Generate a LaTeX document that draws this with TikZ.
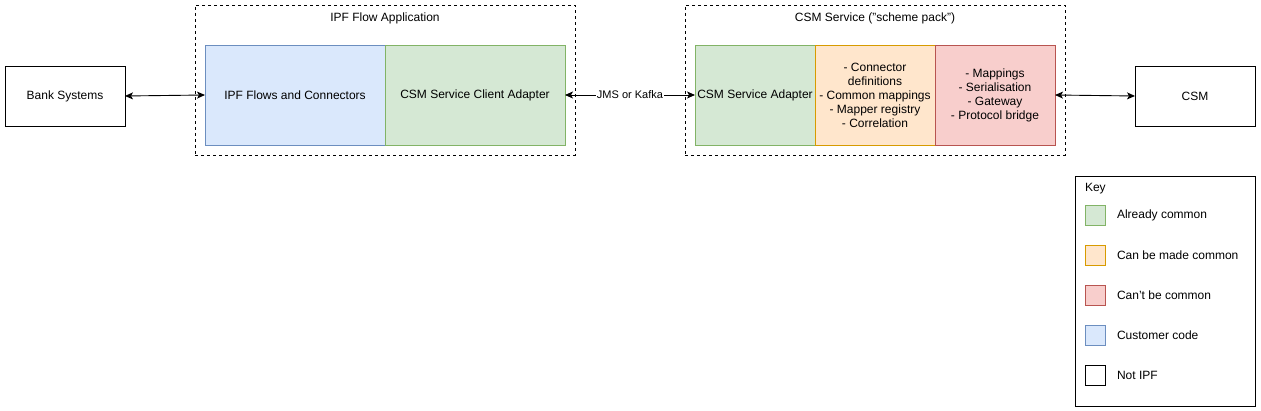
\documentclass[tikz,border=0pt]{standalone}
\usepackage{fontspec}
\setmainfont{Liberation Sans}
\usetikzlibrary{arrows.meta}
\definecolor{bluef}{HTML}{DAE8FC}\definecolor{bluel}{HTML}{6C8EBF}
\definecolor{greenf}{HTML}{D5E8D4}\definecolor{greenl}{HTML}{82B366}
\definecolor{orangef}{HTML}{FFE6CC}\definecolor{orangel}{HTML}{D79B00}
\definecolor{redf}{HTML}{F8CECC}\definecolor{redl}{HTML}{B85450}
\begin{document}
\begin{tikzpicture}[x=1pt,y=-1pt,
  every node/.style={font=\fontsize{12}{14}\selectfont, inner sep=0pt, outer sep=0pt},
  blk/.style={draw, line width=0.8pt, minimum width=#1, minimum height=60pt, anchor=north west, align=center},
  cell/.style={draw, line width=0.8pt, minimum width=#1, minimum height=100pt, anchor=north west, align=center},
  grp/.style={draw, dashed, line width=0.8pt, minimum width=380pt, minimum height=150pt, anchor=north west},
  sw/.style={draw, line width=0.8pt, minimum width=20pt, minimum height=20pt, anchor=north west},
  conn/.style={{Stealth[length=8pt,width=7pt,inset=2pt]}-{Stealth[length=8pt,width=7pt,inset=2pt]}, line width=0.9pt},
  keytxt/.style={anchor=west}
]
\useasboundingbox (0,0) rectangle (1261,411);
% groups
\node[grp] (g1) at (195,5) {};
\node[anchor=center] (g1t) at (385,18.5) {IPF Flow Application};
\node[grp] (g2) at (685,5) {};
\node[anchor=center] (g2t) at (875,18.5) {CSM Service ("scheme pack")};
% outer
\node[blk=120pt] (bank) at (5,66) {Bank Systems};
\node[blk=120pt] (csm) at (1135,66) {CSM};
% cells
\node[cell=180pt, fill=bluef, draw=bluel] (flows) at (205,45) {IPF Flows and Connectors};
\node[cell=180pt, fill=greenf, draw=greenl] (client) at (385,45) {CSM Service Client Adapter};
\node[cell=120pt, fill=greenf, draw=greenl] (adapter) at (695,45) {CSM Service Adapter};
\node[cell=120pt, fill=orangef, draw=orangel] (common) at (815,45) {- Connector\\definitions\\- Common mappings\\- Mapper registry\\- Correlation};
\node[cell=120pt, fill=redf, draw=redl] (nocommon) at (935,45) {- Mappings\\- Serialisation\\- Gateway\\- Protocol bridge};
% connectors
\draw[conn] (bank.east) -- (flows.west);
\draw[conn] (client.east) -- node[fill=white, inner xsep=1pt, inner ysep=2pt, font=\fontsize{11}{13}\selectfont] (jms) {JMS or Kafka} (adapter.west);
\draw[conn] (nocommon.east) -- (csm.west);
% key
\node[draw, line width=0.8pt, minimum width=180pt, minimum height=230pt, anchor=north west] (key) at (1075,176) {};
\node[anchor=west] (keyt) at (1085,189) {Key};
\node[sw, fill=greenf, draw=greenl] (k1) at (1085,205) {};
\node[keytxt] (k1t) at (1117,215) {Already common};
\node[sw, fill=orangef, draw=orangel] (k2) at (1085,245) {};
\node[keytxt] (k2t) at (1117,255) {Can be made common};
\node[sw, fill=redf, draw=redl] (k3) at (1085,285) {};
\node[keytxt] (k3t) at (1117,295) {Can't be common};
\node[sw, fill=bluef, draw=bluel] (k4) at (1085,325) {};
\node[keytxt] (k4t) at (1117,335) {Customer code};
\node[sw] (k5) at (1085,365) {};
\node[keytxt] (k5t) at (1117,375) {Not IPF};
\end{tikzpicture}
\end{document}
